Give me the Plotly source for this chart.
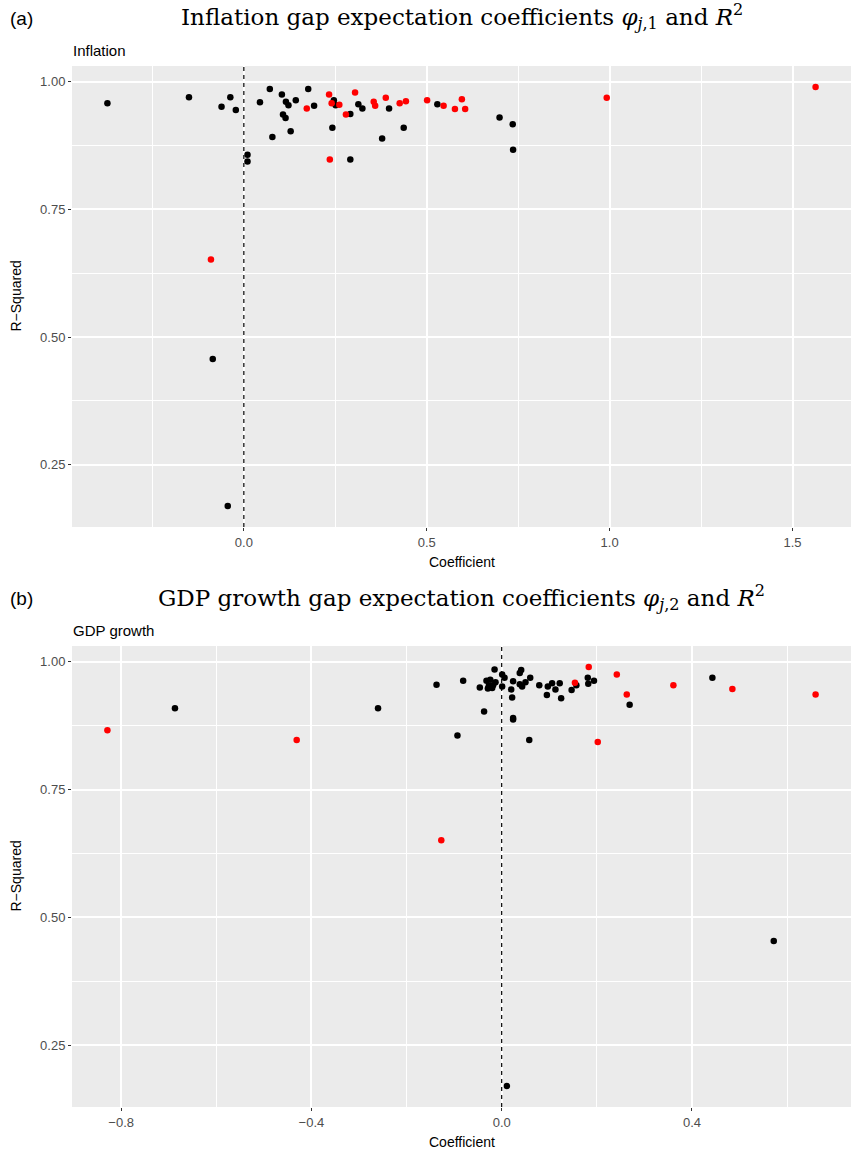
import plotly.graph_objects as go

# Panel (a): inflation gap expectation coefficients and R-squared
infl_black_coef = [-0.373, -0.150, -0.037, -0.061, -0.022, 0.044, 0.071, 0.104, 0.115, 0.122,
                   0.142, 0.107, 0.114, 0.078, 0.128, 0.176, 0.192, 0.010, 0.010, 0.246,
                   0.251, 0.242, 0.291, 0.291, 0.313, 0.324, 0.378, 0.397, 0.437, 0.529,
                   0.699, 0.735, 0.736, -0.085, -0.044]
infl_black_r2 = [0.958, 0.970, 0.970, 0.951, 0.945, 0.960, 0.986, 0.975, 0.961, 0.954,
                 0.964, 0.936, 0.929, 0.892, 0.903, 0.986, 0.953, 0.857, 0.844, 0.964,
                 0.954, 0.910, 0.937, 0.848, 0.956, 0.948, 0.889, 0.948, 0.910, 0.956,
                 0.930, 0.917, 0.867, 0.457, 0.169]
infl_red_coef = [0.172, 0.233, 0.240, 0.261, 0.279, 0.304, 0.355, 0.359, 0.388, 0.426,
                 0.443, 0.501, 0.546, 0.577, 0.235, 0.596, 0.605, 0.992, 1.563, -0.090]
infl_red_r2 = [0.948, 0.975, 0.958, 0.955, 0.936, 0.979, 0.961, 0.953, 0.969, 0.958,
               0.962, 0.964, 0.953, 0.947, 0.848, 0.966, 0.947, 0.969, 0.990, 0.652]

# Panel (b): GDP growth gap expectation coefficients and R-squared
gdp_black_coef = [-0.687, -0.260, -0.137, -0.081, -0.093, -0.046, -0.037,
                  -0.032, -0.024, -0.013, -0.027, -0.018, -0.029, -0.020,
                  -0.015, 0.001, 0.006, 0.001, 0.020, 0.024, 0.022, 0.024, 0.024,
                  0.038, 0.041, 0.038, 0.043, 0.050, 0.060, 0.058, 0.079, 0.095,
                  0.097, 0.106, 0.113, 0.122, 0.125, 0.147, 0.157, 0.181, 0.182,
                  0.194, 0.269, 0.443, 0.572, 0.011]
gdp_black_r2 = [0.909, 0.909, 0.955, 0.963, 0.856, 0.950, 0.903,
                0.963, 0.965, 0.960, 0.953, 0.954, 0.948, 0.949,
                0.985, 0.975, 0.969, 0.952, 0.946, 0.962, 0.930, 0.890, 0.887,
                0.978, 0.984, 0.956, 0.952, 0.960, 0.969, 0.847, 0.954, 0.935,
                0.952, 0.958, 0.946, 0.958, 0.929, 0.945, 0.954, 0.969, 0.957,
                0.963, 0.916, 0.969, 0.454, 0.170]
gdp_red_coef = [-0.829, -0.431, -0.127, 0.154, 0.183, 0.202, 0.242, 0.263, 0.361, 0.485, 0.660]
gdp_red_r2 = [0.866, 0.847, 0.651, 0.959, 0.990, 0.843, 0.975, 0.936, 0.954, 0.947, 0.936]

x_ticks_a = [0.0, 0.5, 1.0, 1.5]
x_ticks_b = [-0.8, -0.4, 0.0, 0.4]
y_ticks = [0.25, 0.50, 0.75, 1.00]

W, H = 854, 1152
BG = "#EBEBEB"
SANS = "Liberation Sans, Arial, Helvetica, sans-serif"
SERIF = "DejaVu Serif, Liberation Serif, serif"


def padded(vals, frac=0.05):
    lo, hi = min(vals), max(vals)
    d = (hi - lo) * frac
    return [lo - d, hi + d]


def fmt(v, nd):
    s = f"{v:.{nd}f}"
    return s.replace("-", "\u2212")


fig = go.Figure()

panels = [
    dict(xa="x", ya="y", bc=infl_black_coef, br=infl_black_r2, rc=infl_red_coef, rr=infl_red_r2),
    dict(xa="x2", ya="y2", bc=gdp_black_coef, br=gdp_black_r2, rc=gdp_red_coef, rr=gdp_red_r2),
]
for p in panels:
    fig.add_trace(go.Scatter(x=p["bc"], y=p["br"], mode="markers", xaxis=p["xa"], yaxis=p["ya"],
                             marker=dict(color="black", size=6.5), showlegend=False, hoverinfo="x+y"))
    fig.add_trace(go.Scatter(x=p["rc"], y=p["rr"], mode="markers", xaxis=p["xa"], yaxis=p["ya"],
                             marker=dict(color="#FF0000", size=6.5), showlegend=False, hoverinfo="x+y"))

# panel pixel boxes
left, right = 72, 851
top_a, bot_a = 66, 527
top_b, bot_b = 646, 1107

x_dom = [left / W, right / W]
ya_dom = [1 - bot_a / H, 1 - top_a / H]
yb_dom = [1 - bot_b / H, 1 - top_b / H]

tickfont = dict(family=SANS, size=13, color="#4D4D4D")
common = dict(showline=False, zeroline=False, ticks="outside", ticklen=3, tickwidth=1,
              tickcolor="#333333", tickfont=tickfont, showgrid=True, gridcolor="white",
              gridwidth=1.5)

y_range_a = padded(infl_black_r2 + infl_red_r2)
y_range_b = padded(gdp_black_r2 + gdp_red_r2)
x_range_a = padded(infl_black_coef + infl_red_coef)
x_range_b = padded(gdp_black_coef + gdp_red_coef)

fig.update_layout(
    width=W, height=H, margin=dict(l=0, r=0, t=0, b=0),
    paper_bgcolor="white", plot_bgcolor=BG,
    xaxis=dict(domain=x_dom, anchor="y", range=x_range_a, tickvals=x_ticks_a,
               ticktext=[fmt(v, 1) for v in x_ticks_a],
               minor=dict(showgrid=True, gridcolor="white", gridwidth=0.7, dtick=0.25, tick0=0),
               **common),
    yaxis=dict(domain=ya_dom, anchor="x", range=y_range_a, tickvals=y_ticks,
               ticktext=[fmt(v, 2) for v in y_ticks],
               minor=dict(showgrid=True, gridcolor="white", gridwidth=0.7, dtick=0.125, tick0=0),
               **common),
    xaxis2=dict(domain=x_dom, anchor="y2", range=x_range_b, tickvals=x_ticks_b,
                ticktext=[fmt(v, 1) for v in x_ticks_b],
                minor=dict(showgrid=True, gridcolor="white", gridwidth=0.7, dtick=0.2, tick0=0),
                **common),
    yaxis2=dict(domain=yb_dom, anchor="x2", range=y_range_b, tickvals=y_ticks,
                ticktext=[fmt(v, 2) for v in y_ticks],
                minor=dict(showgrid=True, gridcolor="white", gridwidth=0.7, dtick=0.125, tick0=0),
                **common),
)

# dashed reference line at zero coefficient
for xr, yr in [("x", "y domain"), ("x2", "y2 domain")]:
    fig.add_shape(type="line", xref=xr, yref=yr, x0=0, x1=0, y0=0, y1=1,
                  line=dict(color="black", width=1.2, dash="4px,4px"), layer="above")

cx = (left + right) / 2 / W


def ann(text, x, y, size, family=SANS, color="black", xanchor="center", angle=0):
    fig.add_annotation(text=text, x=x, y=y, xref="paper", yref="paper", showarrow=False,
                       xanchor=xanchor, yanchor="middle", textangle=angle,
                       font=dict(family=family, size=size, color=color))


for lab, y_lab, title, sub, y_sub, top, bot in [
    ("(a)", 18, "Inflation gap expectation coefficients <i>\u03c6</i><sub><i>j</i>,1</sub> and <i>R</i><sup>2</sup>",
     "Inflation", 50, top_a, bot_a),
    ("(b)", 598, "GDP growth gap expectation coefficients <i>\u03c6</i><sub><i>j</i>,2</sub> and <i>R</i><sup>2</sup>",
     "GDP growth", 630, top_b, bot_b),
]:
    ann(lab, 8 / W, 1 - y_lab / H, 19, xanchor="left")
    ann(title, cx, 1 - (y_lab - 1) / H, 23, family=SERIF)
    ann(sub, 71 / W, 1 - y_sub / H, 15, xanchor="left")
    ann("Coefficient", cx, 1 - (bot + 35) / H, 14)
    ann("R\u2212Squared", 15 / W, 1 - ((top + bot) / 2) / H, 14, angle=-90)

fig.write_html("out.html")
